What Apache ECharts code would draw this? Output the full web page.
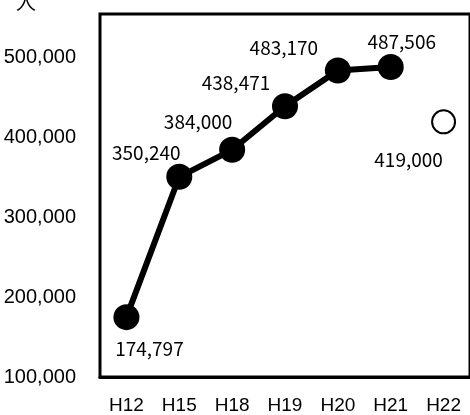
<!DOCTYPE html>
<html><head><meta charset="utf-8">
<script src="https://cdn.jsdelivr.net/npm/echarts@6/dist/echarts.min.js"></script>
<style>html,body{margin:0;padding:0;background:#fff}#c{width:470px;height:415px}</style>
</head><body><div id="c"></div>
<script>
const categories = ['H12','H15','H18','H19','H20','H21','H22'];
const actualValues = [174797, 350240, 384000, 438471, 483170, 487506, null];
const forecastValues = [null, null, null, null, null, null, 419000];
const yTicks = [100000, 200000, 300000, 400000, 500000];
const unitLabel = '人';

// label offsets (styling only)
const labelOffsets = [[23,32],[-33,-24],[-34,-28],[-49,-23],[-54,-23],[11,-25],[-35,38]];

const fmt = v => v.toLocaleString('en-US');
const labelFont = { fontSize: 19, fontFamily: 'Noto Sans CJK JP', color: '#000' };

function withLabels(arr) {
  return arr.map((v, i) => v == null ? null : {
    value: v,
    label: { show: true, position: 'inside', offset: labelOffsets[i], formatter: p => fmt(p.value), ...labelFont }
  });
}

const chart = echarts.init(document.getElementById('c'), null, { renderer: 'canvas' });
chart.setOption({
  animation: false,
  title: { text: unitLabel, left: 11, top: -13, textStyle: { fontSize: 20, fontWeight: 'normal', fontFamily: 'Noto Sans CJK JP', color: '#000' } },
  grid: { left: 100, top: 14, right: -4.5, bottom: 38, show: true, borderColor: '#000', borderWidth: 3, containLabel: false },
  xAxis: {
    type: 'category', data: categories, boundaryGap: true,
    axisLine: { lineStyle: { color: '#000', width: 3 } },
    axisTick: { inside: true, length: 6, lineStyle: { color: '#000', width: 2 } },
    axisLabel: { margin: 19, fontSize: 19, fontFamily: 'Liberation Sans', color: '#000' }
  },
  yAxis: {
    type: 'value', min: yTicks[0], max: 553750, interval: 100000,
    axisLine: { show: false }, axisTick: { show: false }, splitLine: { show: false },
    axisLabel: { margin: 24, fontSize: 20, fontFamily: 'Liberation Sans', color: '#000', showMaxLabel: false,
      formatter: v => yTicks.includes(v) ? fmt(v) : '' }
  },
  series: [
    { type: 'line', data: withLabels(actualValues), symbol: 'circle', symbolSize: 26,
      itemStyle: { color: '#000' }, lineStyle: { color: '#000', width: 6 }, connectNulls: false },
    { type: 'line', data: withLabels(forecastValues), symbol: 'circle', symbolSize: 23,
      itemStyle: { color: '#fff', borderColor: '#000', borderWidth: 2 }, lineStyle: { width: 0 } }
  ]
});
</script></body></html>
